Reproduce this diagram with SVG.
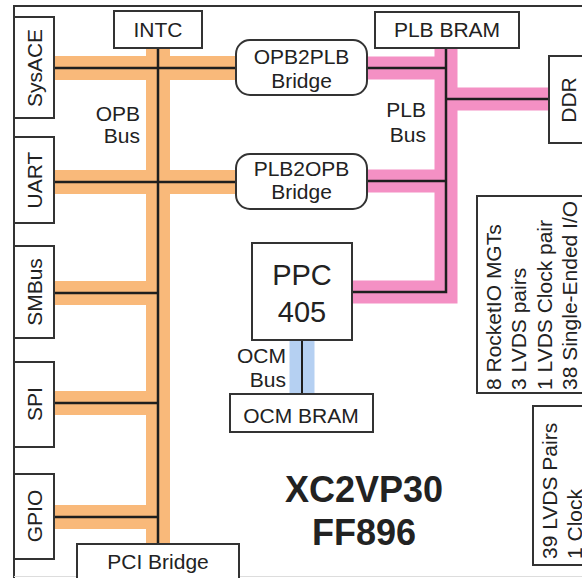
<svg xmlns="http://www.w3.org/2000/svg" width="582" height="578" viewBox="0 0 582 578">
<style>
.box{fill:#fff;stroke:#333;stroke-width:2}
.t{font-family:"Liberation Sans",Arial,Helvetica,sans-serif;font-size:21px;fill:#222}
.m{text-anchor:middle}
.e{text-anchor:end}
.opb{fill:none;stroke:#F9B97A;stroke-width:24}
.plb{fill:none;stroke:#F490C4;stroke-width:23}
.ocm{fill:none;stroke:#B5D0F2;stroke-width:25}
.wire{fill:none;stroke:#1e1e1e;stroke-width:2.5}
</style>
<rect width="582" height="578" fill="#fff"/>
<g id="frame">
<path d="M14,578 V6 H582" fill="none" stroke="#333" stroke-width="2"/>
<path d="M14,576.5 H582" fill="none" stroke="#ddd" stroke-width="1"/>
</g>
<g id="connectors">
<path class="opb" d="M158,48 V544 M54,68 H236 M54,182 H236 M54,293 H158 M54,403 H158 M54,517 H158"/>
<path class="plb" d="M446,48 V292 H352 M367,68 H446 M367,181 H446 M446,99 H549"/>
<path class="ocm" d="M302,340 V394"/>
<path class="wire" d="M158,48 V544 M54,68 H236 M54,182 H236 M54,293 H158 M54,403 H158 M54,517 H158"/>
<path class="wire" d="M446,48 V292 H352 M367,68 H446 M367,181 H446 M446,99 H549"/>
<path class="wire" stroke="#1f2a40" d="M302,340 V394" style="stroke-width:2"/>
</g>
<g id="labels">
<text class="t e" x="140" y="121">OPB</text>
<text class="t e" x="140" y="143">Bus</text>
<text class="t e" x="426" y="117">PLB</text>
<text class="t e" x="426" y="142">Bus</text>
<text class="t e" x="286" y="363">OCM</text>
<text class="t e" x="286" y="387">Bus</text>
<text class="t m" x="364" y="502" style="font-size:36px;font-weight:bold">XC2VP30</text>
<text class="t m" x="364" y="545" style="font-size:36px;font-weight:bold">FF896</text>
</g>
<g id="sysace"><rect class="box" x="14" y="17" width="40" height="101"/><text class="t m" transform="translate(42,68) rotate(-90)">SysACE</text></g>
<g id="uart"><rect class="box" x="14" y="137" width="40" height="86"/><text class="t m" transform="translate(42,180) rotate(-90)">UART</text></g>
<g id="smbus"><rect class="box" x="14" y="246" width="40" height="92"/><text class="t m" transform="translate(42,292) rotate(-90)">SMBus</text></g>
<g id="spi"><rect class="box" x="14" y="362" width="40" height="85"/><text class="t m" transform="translate(42,404) rotate(-90)">SPI</text></g>
<g id="gpio"><rect class="box" x="14" y="474" width="40" height="85"/><text class="t m" transform="translate(42,516) rotate(-90)">GPIO</text></g>
<g id="intc"><rect class="box" x="114" y="11" width="88" height="37"/><text class="t m" x="158" y="37">INTC</text></g>
<g id="pci"><rect class="box" x="77" y="544" width="162" height="40"/><text class="t m" x="158" y="569">PCI Bridge</text></g>
<g id="opb2plb"><rect class="box" x="236" y="40" width="131" height="55" rx="14"/><text class="t m" x="301.5" y="64">OPB2PLB</text><text class="t m" x="301.5" y="88">Bridge</text></g>
<g id="plb2opb"><rect class="box" x="236" y="154" width="131" height="55" rx="14"/><text class="t m" x="301.5" y="176">PLB2OPB</text><text class="t m" x="301.5" y="199">Bridge</text></g>
<g id="plbbram"><rect class="box" x="375" y="12" width="144" height="36"/><text class="t m" x="447" y="37">PLB BRAM</text></g>
<g id="ddr"><rect class="box" x="549" y="56" width="50" height="87"/><text class="t m" transform="translate(576,100) rotate(-90)">DDR</text></g>
<g id="ppc"><rect class="box" x="252" y="243" width="100" height="97"/><text class="t m" x="302" y="285" style="font-size:29px">PPC</text><text class="t m" x="302" y="322" style="font-size:29px">405</text></g>
<g id="ocmbram"><rect class="box" x="230" y="394" width="143" height="38"/><text class="t m" x="301" y="423">OCM BRAM</text></g>
<g id="io1"><rect class="box" x="477" y="196" width="120" height="197"/>
<text class="t" transform="translate(501,390) rotate(-90)">8 RocketIO MGTs</text>
<text class="t" transform="translate(526,390) rotate(-90)">3 LVDS pairs</text>
<text class="t" transform="translate(552,390) rotate(-90)">1 LVDS Clock pair</text>
<text class="t" transform="translate(577,390) rotate(-90)">38 Single-Ended I/O</text>
</g>
<g id="io2"><rect class="box" x="533" y="406" width="70" height="159"/>
<text class="t" transform="translate(557,559) rotate(-90)">39 LVDS Pairs</text>
<text class="t" transform="translate(582,559) rotate(-90)">1 Clock</text>
</g>
</svg>
